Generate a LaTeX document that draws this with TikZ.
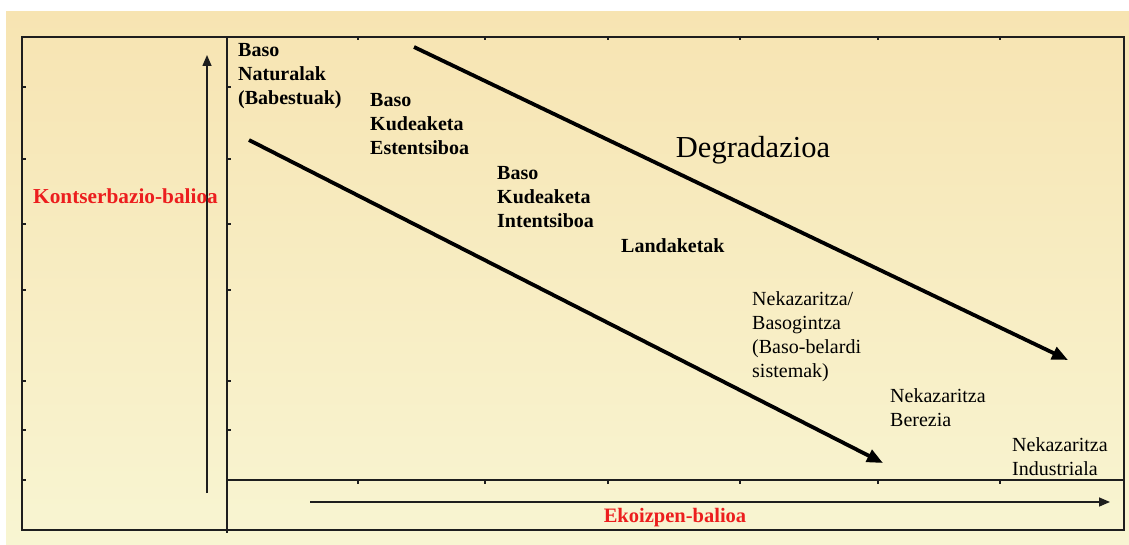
\documentclass[tikz,border=0pt]{standalone}
\usepackage{fontspec}
\setmainfont{Liberation Serif}
\usetikzlibrary{arrows.meta}
\definecolor{bgtop}{RGB}{247,228,178}
\definecolor{bgbot}{RGB}{248,245,210}
\definecolor{axisred}{RGB}{236,30,30}
\definecolor{ink}{RGB}{30,30,30}
\begin{document}
\begin{tikzpicture}[x=1pt,y=-1pt,
  frame/.style={line width=1.6pt, draw=ink},
  tickmark/.style={line width=1.1pt, draw=ink},
  axisarrow/.style={line width=1.5pt, draw=ink, -{Triangle[length=11pt,width=9pt]}},
  trend/.style={line width=3.8pt, -{Triangle[length=16pt,width=13pt]}},
  cat/.style={anchor=north west, inner sep=0pt, align=left,
    font=\fontsize{20}{24.3}\selectfont\bfseries},
  catr/.style={cat, font=\fontsize{20}{24.3}\selectfont},
  axlabel/.style={inner sep=0pt, text=axisred,
    font=\fontsize{20.5}{24}\selectfont\bfseries}]
\useasboundingbox (0,0) rectangle (1129,545);
\fill[white] (0,0) rectangle (1129,545);
\shade[top color=bgtop, bottom color=bgbot] (6,12) rectangle (1129,545);

% chart frame and plot area
\draw[frame] (22,37) rectangle (1124,530);
\draw[frame] (227,37) -- (227,533);
\draw[frame] (227,480) -- (1124,480);

% tick marks on the vertical lines
\foreach \ty in {87,159,224,290,381,430}{
  \draw[tickmark] (22,\ty) -- ++(4,0);
  \draw[tickmark] (227,\ty) -- ++(4,0);
}
\draw[tickmark] (22,480) -- ++(4,0);
% tick marks on the horizontal lines
\foreach \tx in {358,485,608,740,878,1000}{
  \draw[tickmark] (\tx,480) -- ++(0,4);
  \draw[tickmark] (\tx,37) -- ++(0,3);
}

% axes
\coordinate (vaxS) at (207,493);
\coordinate (vaxE) at (207,55);
\draw[axisarrow] (vaxS) -- (vaxE);
\coordinate (haxS) at (310,502);
\coordinate (haxE) at (1110,502);
\draw[axisarrow] (haxS) -- (haxE);

\node[axlabel, anchor=west, font=\fontsize{21.3}{24}\selectfont\bfseries] (conservation) at (33,196) {Kontserbazio-balioa};
\node[axlabel] (production) at (675,518) {Ekoizpen-balioa};

% land-use categories
\node[cat]  (natural)     at (238,43)  {Baso\\Naturalak\\(Babestuak)};
\node[cat]  (extensive)   at (370,93)  {Baso\\Kudeaketa\\Estentsiboa};
\node[cat]  (intensive)   at (497,166) {Baso\\Kudeaketa\\Intentsiboa};
\node[cat]  (plantations) at (621,238) {Landaketak};
\node[catr] (agroforest)  at (752,291) {Nekazaritza/\\Basogintza\\(Baso-belardi\\sistemak)};
\node[catr] (special)     at (890,388) {Nekazaritza\\Berezia};
\node[catr] (industrial)  at (1012,437) {Nekazaritza\\Industriala};

\node[inner sep=0pt, font=\fontsize{30.5}{36}\selectfont] (degradation) at (753,150) {Degradazioa};

% trend arrows
\coordinate (upS) at (414,47);
\coordinate (upE) at (1068,360);
\draw[trend] (upS) -- (upE);
\coordinate (loS) at (249,140);
\coordinate (loE) at (883,463);
\draw[trend] (loS) -- (loE);
\end{tikzpicture}
\end{document}
